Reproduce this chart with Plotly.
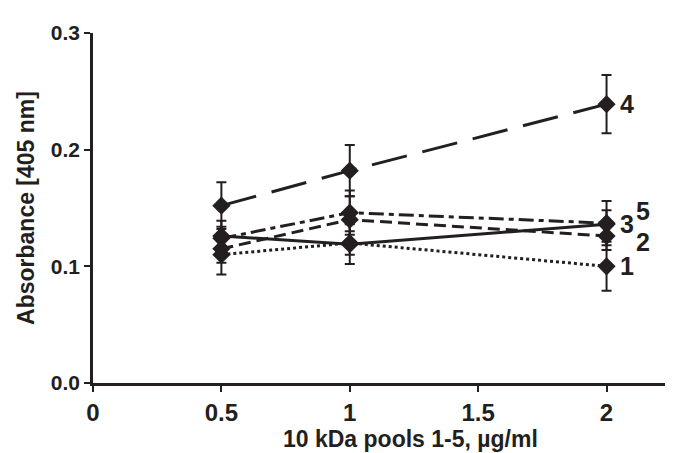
import plotly.graph_objects as go

x_vals = [0.5, 1, 2]
series_names = ["1", "2", "3", "4", "5"]
s1 = [0.110, 0.120, 0.100]
s1_err = [0.017, 0.010, 0.021]
s2 = [0.115, 0.140, 0.126]
s2_err = [0.012, 0.020, 0.012]
s3 = [0.126, 0.119, 0.136]
s3_err = [0.013, 0.017, 0.012]
s4 = [0.152, 0.182, 0.239]
s4_err = [0.020, 0.022, 0.025]
s5 = [0.124, 0.146, 0.137]
s5_err = [0.010, 0.019, 0.019]

x_ticks = [0, 0.5, 1, 1.5, 2]
x_tick_labels = ["0", "0.5", "1", "1.5", "2"]
y_ticks = [0.0, 0.1, 0.2, 0.3]
y_tick_labels = ["0.0", "0.1", "0.2", "0.3"]

INK = "#231f20"
FONT = "Liberation Sans"

series = [
    (s1, s1_err, "3px,3px"),
    (s2, s2_err, "12px,6px"),
    (s3, s3_err, "solid"),
    (s4, s4_err, "36px,16px"),
    (s5, s5_err, "15px,5px,5px,5px"),
]

fig = go.Figure()
for name, (vals, errs, dash) in zip(series_names, series):
    fig.add_trace(go.Scatter(
        x=x_vals, y=vals, name=name, mode="lines+markers",
        line=dict(color=INK, width=3, dash=dash),
        marker=dict(symbol="diamond", size=14, color=INK),
        error_y=dict(type="data", array=errs, visible=True, color=INK,
                     thickness=2, width=5),
        showlegend=False,
    ))

# end labels
label_info = [
    ("1", s1[-1], 11, 0),
    ("2", s2[-1], 27, -6),
    ("3", s3[-1], 11, 0),
    ("4", s4[-1], 11, 0),
    ("5", s5[-1], 27, 12),
]
for txt, yv, xs, ys in label_info:
    fig.add_annotation(x=2, y=yv, text=txt, showarrow=False, xanchor="left",
                       yanchor="middle", xshift=xs, yshift=ys,
                       font=dict(family=FONT, size=25, color=INK, weight="bold"))

fig.add_annotation(x=0.54, y=-78 / 350, xref="paper", yref="paper", yshift=7,
                   text="10 kDa pools 1-5, µg/ml", showarrow=False,
                   xanchor="center", yanchor="bottom",
                   font=dict(family=FONT, size=23, color=INK, weight="bold"))

fig.update_layout(
    width=673, height=453,
    margin=dict(l=85, r=0, t=25, b=78),
    paper_bgcolor="white", plot_bgcolor="white",
    font=dict(family=FONT, color=INK, weight="bold"),
)
fig.update_xaxes(
    range=[0, 2.29], tickmode="array", tickvals=x_ticks, ticktext=x_tick_labels,
    showline=True, linecolor=INK, linewidth=2.5, ticks="outside", ticklen=6,
    tickwidth=2, tickcolor=INK, showgrid=False, zeroline=False,
    tickfont=dict(family=FONT, size=24, color=INK, weight="bold"),
)
fig.update_yaxes(
    range=[0, 0.3], tickmode="array", tickvals=y_ticks, ticktext=y_tick_labels,
    showline=True, linecolor=INK, linewidth=2.5, ticks="outside", ticklen=6,
    tickwidth=2, tickcolor=INK, showgrid=False, zeroline=False,
    tickfont=dict(family=FONT, size=21, color=INK, weight="bold"),
    title=dict(text="Absorbance [405 nm]", standoff=10,
               font=dict(family=FONT, size=23, color=INK, weight="bold")),
)

fig.write_html("out.html")
